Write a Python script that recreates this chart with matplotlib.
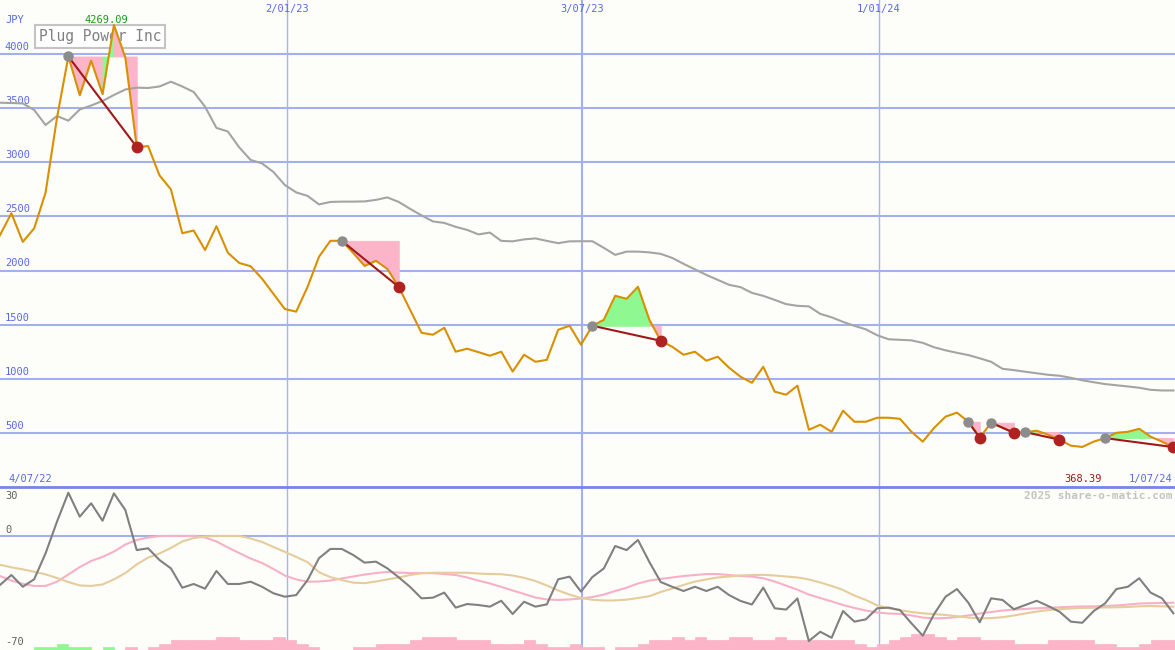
import numpy as np
import matplotlib.pyplot as plt
from matplotlib.lines import Line2D

# weekly closes (JPY), 4/07/22 .. 1/07/24
price = [2327, 2530, 2265, 2390, 2720, 3410, 3978, 3620, 3940, 3630,
         4269.09, 3970, 3142, 3150, 2880, 2750, 2345, 2370, 2190, 2410,
         2165, 2070, 2040, 1925, 1785, 1645, 1620, 1850, 2127, 2275,
         2275, 2163, 2043, 2090, 2015, 1849, 1637, 1425, 1407, 1471,
         1250, 1278, 1246, 1213, 1250, 1067, 1222, 1157, 1175, 1453,
         1490, 1315, 1490, 1545, 1767, 1739, 1850, 1545, 1351, 1296,
         1222, 1250, 1167, 1204, 1102, 1019, 963, 1111, 881, 853,
         936, 529, 575, 510, 705, 603, 603, 640, 640, 630,
         511, 419, 547, 650, 687, 603, 455, 594, 548, 501,
         507, 520, 483, 437, 382, 370, 419, 452, 501, 510,
         538, 465, 419, 368.39]

# long moving average (grey)
ma = [3551, 3548, 3544, 3484, 3345, 3428, 3385, 3488, 3525, 3567,
      3622, 3673, 3690, 3687, 3701, 3745, 3701, 3650, 3514, 3318,
      3285, 3138, 3022, 2990, 2911, 2791, 2722, 2690, 2611, 2634,
      2637, 2637, 2639, 2653, 2676, 2634, 2570, 2510, 2454, 2440,
      2404, 2376, 2334, 2351, 2274, 2270, 2288, 2297, 2274, 2253,
      2270, 2271, 2271, 2210, 2145, 2175, 2175, 2168, 2154, 2117,
      2062, 2011, 1960, 1914, 1868, 1847, 1794, 1766, 1729, 1690,
      1674, 1669, 1600, 1568, 1526, 1489, 1457, 1402, 1365, 1360,
      1355, 1332, 1291, 1263, 1240, 1219, 1189, 1157, 1092, 1080,
      1065, 1051, 1037, 1028, 1009, 986, 968, 951, 940, 929,
      917, 898, 892, 892]

# lower panel oscillator
osc = [-30.1, -24.0, -31.2, -26.6, -10.7, 8.7, 26.5, 11.8, 20.0, 9.3,
       26.1, 15.9, -8.7, -7.6, -14.8, -19.9, -31.8, -29.5, -32.4, -21.5,
       -29.5, -29.5, -28.1, -31.2, -35.2, -37.3, -36.3, -27.1, -13.7, -8.0,
       -8.0, -11.7, -16.4, -15.8, -19.9, -25.4, -31.3, -38.3, -37.9, -34.8,
       -44.0, -41.8, -42.4, -43.4, -39.8, -47.9, -40.4, -43.4, -42.0, -26.6,
       -25.0, -34.2, -25.2, -20.0, -6.2, -8.7, -2.5, -16.0, -28.3, -31.2,
       -33.8, -31.2, -33.8, -31.2, -36.3, -39.9, -42.1, -31.7, -44.4, -45.2,
       -38.4, -64.5, -58.8, -62.5, -46.1, -52.6, -51.2, -44.4, -44.0, -45.5,
       -53.6, -61.2, -47.9, -37.3, -32.6, -41.0, -53.0, -38.3, -39.3, -45.0,
       -42.4, -39.8, -43.0, -46.5, -52.6, -53.3, -46.1, -41.4, -32.6, -31.2,
       -26.0, -34.8, -38.3, -47.5]

osc_fast = [-24.6, -27.4, -29.4, -30.7, -30.7, -28.1, -23.7, -19.1, -15.4, -12.9,
            -9.6, -5.3, -2.5, -1.0, -0.1, 0, 0, 0, -1.0, -3.4,
            -7.1, -10.5, -13.9, -16.6, -20.3, -24.3, -26.7, -28.1, -28.0, -27.4,
            -26.1, -24.9, -23.7, -22.8, -22.1, -22.5, -22.8, -22.8, -22.9, -23.4,
            -24.0, -25.5, -27.4, -29.2, -31.3, -33.5, -35.6, -37.8, -39.0, -39.3,
            -39.0, -38.4, -37.5, -36.0, -33.8, -31.8, -29.2, -27.4, -26.4, -25.5,
            -24.6, -24.0, -23.4, -23.4, -24.0, -24.6, -25.0, -26.0, -28.0, -30.5,
            -33.0, -36.0, -38.1, -40.2, -42.4, -44.2, -45.8, -47.0, -47.6, -47.9,
            -48.8, -50.1, -50.6, -50.4, -49.8, -48.8, -47.6, -46.7, -45.8, -45.2,
            -44.8, -44.4, -44.1, -43.8, -43.5, -43.3, -43.2, -43.0, -42.7, -42.1,
            -41.5, -41.3, -41.2, -41.0]

osc_slow = [-17.7, -19.3, -20.5, -22.0, -23.6, -25.8, -28.3, -30.4, -30.7, -29.8,
            -26.7, -22.8, -17.5, -13.3, -10.8, -7.4, -3.4, -1.3, -0.4, 0,
            0, 0, -1.6, -3.7, -6.8, -9.8, -12.9, -16.1, -22.3, -25.3,
            -27.1, -28.7, -29.0, -28.0, -26.7, -25.5, -24.0, -22.9, -22.6, -22.6,
            -22.6, -22.6, -23.1, -23.4, -23.5, -24.3, -25.7, -27.7, -30.4, -33.5,
            -36.0, -38.1, -39.2, -39.6, -39.6, -39.1, -38.1, -37.0, -34.4, -32.3,
            -30.1, -28.0, -26.7, -25.5, -24.9, -24.3, -24.0, -23.9, -24.3, -24.9,
            -25.5, -26.7, -28.6, -30.7, -33.2, -36.6, -39.3, -42.6, -44.4, -45.6,
            -46.7, -47.5, -48.0, -48.5, -49.3, -50.1, -50.6, -50.4, -49.9, -48.8,
            -47.6, -46.4, -45.5, -45.0, -44.5, -44.2, -44.1, -43.9, -43.8, -43.6,
            -43.2, -43.0, -43.2, -43.4]

# volume-ish bars at the bottom: + green, - pink (levels)
bar_level = [0, 0, 0, 1, 1, 2, 1, 1, 0, 1,
             0, -1, 0, -1, -2, -3, -3, -3, -3, -4,
             -4, -3, -3, -3, -4, -3, -2, -1, 0, 0,
             0, -1, -1, -2, -2, -2, -3, -4, -4, -4,
             -3, -3, -3, -2, -2, -2, -3, -2, -1, -1,
             -2, -1, -1, 0, -1, -1, -2, -3, -3, -4,
             -3, -4, -3, -3, -4, -4, -3, -3, -4, -3,
             -3, -3, -3, -3, -3, -2, -1, -2, -3, -4,
             -5, -5, -4, -3, -4, -4, -3, -3, -3, -2,
             -2, -2, -3, -3, -3, -3, -2, -2, -1, -1,
             -2, -3, -3, -3]

# drawdown runs (start week, end week)
drawdowns = [(6, 12), (30, 35), (52, 58), (85, 86), (87, 89), (90, 93), (97, 103)]

price_ticks = [500, 1000, 1500, 2000, 2500, 3000, 3500, 4000]
date_pos = [25.19, 51.09, 77.16]
date_labels = ['2/01/23', '3/07/23', '1/01/24']

W, H = 1175, 650
x = np.arange(len(price))
bg = '#fdfefa'
grid_c = '#a3b0f0'
lbl_c = '#5a68ea'
mono = 'DejaVu Sans Mono'

fig = plt.figure(figsize=(W / 100, H / 100), dpi=100, facecolor=bg)
ax1 = fig.add_axes([0, 163 / H, 1, 487 / H])
ax2 = fig.add_axes([0, 0, 1, 163 / H])
for ax in (ax1, ax2):
    ax.set_facecolor(bg)
    ax.set_xlim(0, 103.14)
    ax.axis('off')
ax1.set_ylim(0, 4500)
ax2.set_ylim(-70, 30)

# grid
for v in price_ticks:
    ax1.axhline(v, color=grid_c, lw=1.5, zorder=1)
    ax1.annotate(str(v), (0, v), xycoords=('axes fraction', 'data'),
                 xytext=(3.5, 1.5), textcoords='offset points',
                 fontsize=7.5, family=mono, color=lbl_c, va='bottom')
ax2.axhline(0, color=grid_c, lw=1.5, zorder=1)
for p, lab in zip(date_pos, date_labels):
    w = 1.5 if lab == '3/07/23' else 1.0
    c = grid_c if lab == '3/07/23' else '#a8b2ec'
    ax1.axvline(p, color=c, lw=w, zorder=1)
    ax2.axvline(p, color=c, lw=w, zorder=1)
    fig.text(p * 11.392 / W, 1 - 9 / H, lab, fontsize=7.5, family=mono,
             color=lbl_c, ha='center', va='center')

# title box (lines pass over it)
ax1.text(100 / W, 1 - 36.5 / H, 'Plug Power Inc', transform=fig.transFigure,
         fontsize=10.5, family=mono, color='#808080', ha='center', va='center',
         zorder=1.5,
         bbox=dict(boxstyle='square,pad=0.25', fc='white', ec='#c4c4c4', lw=1.5))

# drawdown shading
for s, e in drawdowns:
    level = price[s]
    for i in range(s, e):
        col = '#90f890' if price[i + 1] > level else '#fcb4c8'
        ax1.fill_between([i, i + 1], [price[i], price[i + 1]], level,
                         facecolor=col, edgecolor=col, lw=0.6, zorder=2)

ax1.plot(x, ma, color='#a4a4a4', lw=1.5, zorder=3)
ax1.plot(x, price, color='#d99000', lw=1.5, zorder=4)

for s, e in drawdowns:
    ax1.plot([s, e], [price[s], price[e]], color='#a01818', lw=1.5, zorder=5)
    ax1.plot(s, price[s], 'o', color='#8c8c8c', ms=6.5, zorder=6)
    ax1.plot(e, price[e], 'o', color='#b02222', ms=7.5, zorder=6)

# lower panel
bx = [i for i in x if bar_level[i] != 0]
bh = [abs(bar_level[i]) * 1.95 for i in bx]
bc = ['#90f890' if bar_level[i] > 0 else '#fbb4c8' for i in bx]
ax2.bar(bx, bh, width=1, bottom=-70, align='edge', color=bc, edgecolor=bc,
        lw=0.5, zorder=2)
ax2.plot(x, osc_fast, color='#f8b0c8', lw=1.5, zorder=3)
ax2.plot(x, osc_slow, color='#e6cc9c', lw=1.5, zorder=3)
ax2.plot(x, osc, color='#808080', lw=1.5, zorder=4)

fig.add_artist(Line2D([0, 1], [163 / H, 163 / H], transform=fig.transFigure,
                      color='#7585e8', lw=2))

# labels
def ftxt(px, py, s, **kw):
    fig.text(px / W, 1 - py / H, s, family=mono, va='center', **kw)

ftxt(5, 20, 'JPY', fontsize=7.5, color=lbl_c)
ftxt(106, 20, f'{max(price):.2f}', fontsize=7.5, color='#1a9a1a', ha='center')
ftxt(8, 479, '4/07/22', fontsize=7.5, color=lbl_c)
ftxt(1172, 479, '1/07/24', fontsize=7.5, color=lbl_c, ha='right')
ftxt(1102, 479, f'{price[-1]:.2f}', fontsize=7.5, color='#a01818', ha='right')
ftxt(1172, 496, '2025 share-o-matic.com', fontsize=8, color='#c4c4c4',
     ha='right', fontweight='bold')
ftxt(5, 496, '30', fontsize=7.5, color='#606060')
ftxt(5, 530, '0', fontsize=7.5, color='#606060')
ftxt(5, 642, '-70', fontsize=7.5, color='#606060')

fig.savefig('out.png', dpi=100, facecolor=bg)
